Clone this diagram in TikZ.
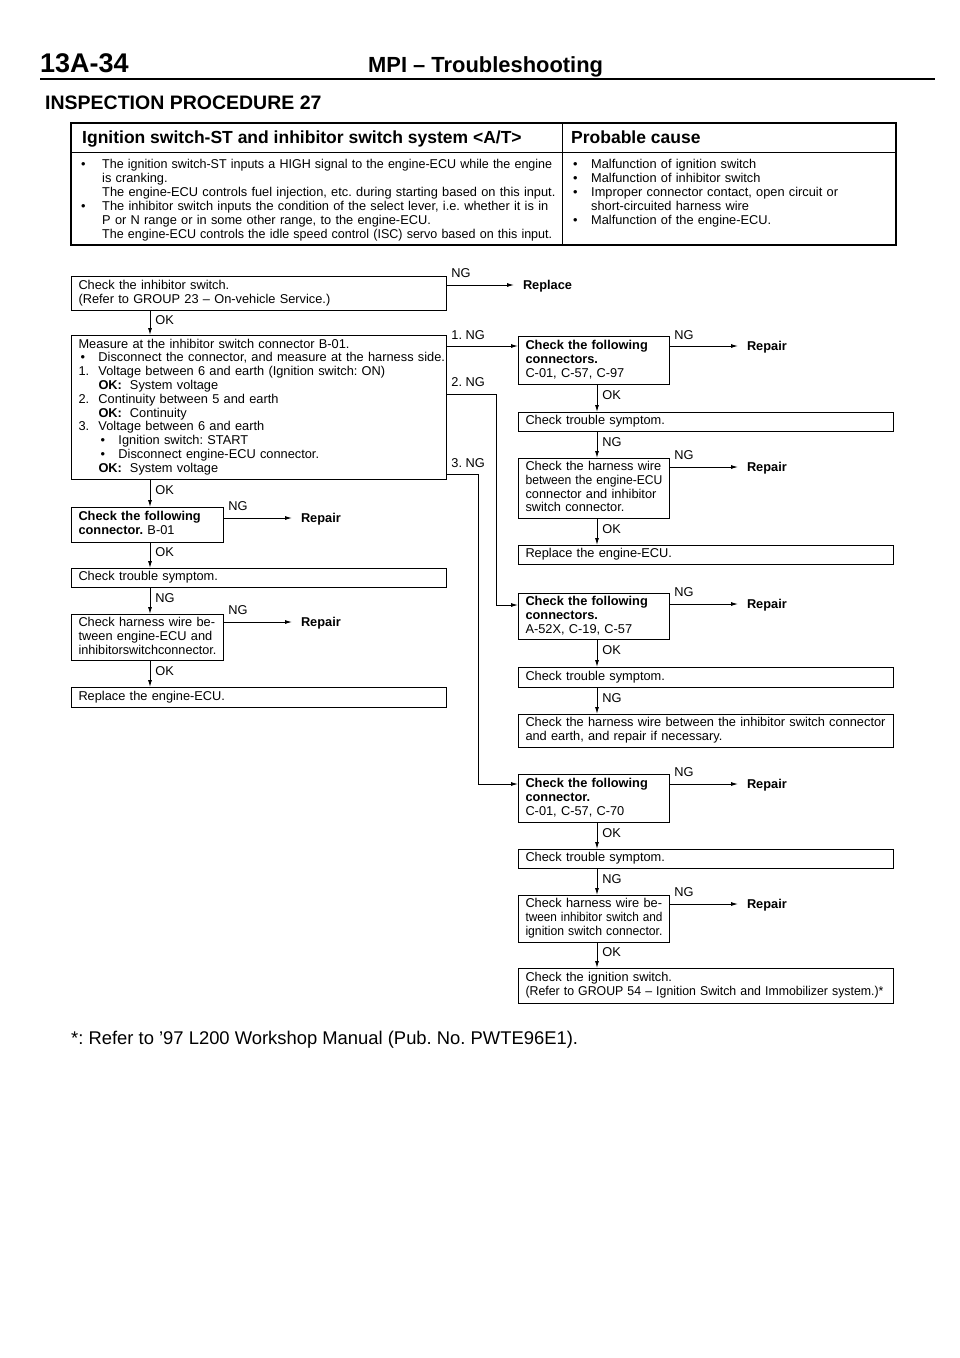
\documentclass[tikz,border=0pt]{standalone}
\usepackage{fontspec}
\usepackage{graphicx}
\setmainfont{Liberation Sans}
\usetikzlibrary{arrows.meta,calc}
\frenchspacing
\newcommand\fs{\fontsize{12.8}{13.8}\selectfont}
\newcommand\tfs{\fontsize{12.8}{14}\selectfont}
\newcommand\jl[2]{\makebox[#1pt][s]{#2}}
\newcommand\sq[2]{\resizebox{#1pt}{\height}{#2}}
\newcommand\hb[1]{\makebox[20pt][l]{#1}}
\newcommand\bul{\hspace{2pt}\textbullet}
\newcommand\lbl[1]{\leavevmode\llap{\textbullet\hspace{#1pt}}}
\begin{document}
\begin{tikzpicture}[x=1pt,y=-1pt,
  fb/.style={draw, line width=1pt, anchor=north west, inner xsep=7pt, inner ysep=0pt,
    align=left, font=\fs, execute at begin node={\parindent=0pt\frenchspacing\strut}, execute at end node={\strut}},
  tbl/.style={anchor=north west, inner sep=0pt, align=left, font=\tfs,
    execute at begin node={\parindent=0pt\frenchspacing\strut}},
  arr/.style={-{Latex[length=7pt,width=4pt]}, line width=0.9pt},
  lab/.style={anchor=west, inner sep=0pt, text height=9.2pt, text depth=0pt, font=\fs},
  vlab/.style={lab, pos=0.37, xshift=5pt},
  hlab/.style={lab, xshift=4pt, yshift=12pt},
  res/.style={anchor=west, inner sep=0pt, outer xsep=9pt, text height=9.2pt, text depth=0pt, font=\fs\bfseries},
]
\useasboundingbox[fill=white] (0,0) rectangle (960,1358);

% page header
\node[anchor=base west, inner sep=0pt, font=\fontsize{27}{30}\selectfont\bfseries] (pg) at (40,72) {13A-34};
\node[anchor=base west, inner sep=0pt, font=\fontsize{21.9}{24}\selectfont\bfseries] (ttl) at (368,72) {MPI – Troubleshooting};
\draw[line width=2.6pt] (40,79) -- (935,79);
\node[anchor=base west, inner sep=0pt, font=\fontsize{19.5}{22}\selectfont\bfseries] (ip) at (45,109) {INSPECTION PROCEDURE 27};

% table
\draw[line width=1.2pt] (71,123) rectangle (896,245);
\draw[line width=0.9pt] (71,152) -- (896,152);
\draw[line width=0.9pt] (562,123) -- (562,245);
\node[anchor=base west, inner sep=0pt, font=\fontsize{17.5}{20}\selectfont\bfseries] (th1) at (82,143.5) {Ignition switch-ST and inhibitor switch system <A/T>};
\node[anchor=base west, inner sep=0pt, font=\fontsize{17.5}{20}\selectfont\bfseries] (th2) at (571,143.5) {Probable cause};
\node[tbl, text width=453pt] (tl) at (102,158) {%
\lbl{16.5}\sq{450}{The ignition switch-ST inputs a HIGH signal to the engine-ECU while the engine}\\
is cranking.\\
\jl{450}{The engine-ECU controls fuel injection, etc. during starting based on this input.}\\
\lbl{16.5}\jl{450}{The inhibitor switch inputs the condition of the select lever, i.e. whether it is in}\\
P or N range or in some other range, to the engine-ECU.\\
\sq{450}{The engine-ECU controls the idle speed control (ISC) servo based on this input.}};
\node[tbl, text width=297pt] (tr) at (591,158) {%
\lbl{13.7}Malfunction of ignition switch\\
\lbl{13.7}Malfunction of inhibitor switch\\
\lbl{13.7}\jl{297}{Improper connector contact, open circuit or}\\
short-circuited harness wire\\
\lbl{13.7}Malfunction of the engine-ECU.};

% left column boxes
\node[fb, text width=361pt, minimum height=34pt] (A) at (71,276) {Check the inhibitor switch.\\(Refer to GROUP 23 – On-vehicle Service.)};
\node[fb, text width=361pt, minimum height=144pt] (B) at (71,335) {Measure at the inhibitor switch connector B-01.\\
\mbox{\hb{\bul}Disconnect the connector, and measure at the harness side.}\\
\hb{1.}Voltage between 6 and earth (Ignition switch: ON)\\
\hb{}\textbf{OK:}\hspace{8pt}System voltage\\
\hb{2.}Continuity between 5 and earth\\
\hb{}\textbf{OK:}\hspace{8pt}Continuity\\
\hb{3.}Voltage between 6 and earth\\
\hb{}\hb{\bul}Ignition switch: START\\
\hb{}\hb{\bul}Disconnect engine-ECU connector.\\
\hb{}\textbf{OK:}\hspace{8pt}System voltage};
\node[fb, text width=138pt, minimum height=35pt] (C) at (71,507) {\jl{138}{\bfseries Check the following}\\\textbf{connector.} B-01};
\node[fb, text width=361pt, minimum height=19pt] (D) at (71,568) {Check trouble symptom.};
\node[fb, text width=138pt, minimum height=46pt] (LE) at (71,614) {\jl{138}{Check harness wire be-}\\\jl{138}{tween engine-ECU and}\\\sq{138}{inhibitorswitchconnector.}};
\node[fb, text width=361pt, minimum height=20pt] (LR) at (71,687) {Replace the engine-ECU.};

% right column boxes
\node[fb, text width=137pt, minimum height=48pt] (RC1) at (518,336) {\jl{137}{\bfseries Check the following}\\\textbf{connectors.}\\C-01, C-57, C-97};
\node[fb, text width=361pt, minimum height=19pt] (RT1) at (518,412) {Check trouble symptom.};
\node[fb, text width=137pt, minimum height=60pt] (RH1) at (518,458) {\jl{137}{Check the harness wire}\\\sq{137}{between the engine-ECU}\\\jl{137}{connector and inhibitor}\\switch connector.};
\node[fb, text width=361pt, minimum height=19pt] (RR1) at (518,545) {Replace the engine-ECU.};
\node[fb, text width=137pt, minimum height=46pt] (RC2) at (518,593) {\jl{137}{\bfseries Check the following}\\\textbf{connectors.}\\A-52X, C-19, C-57};
\node[fb, text width=361pt, minimum height=20pt] (RT2) at (518,667) {Check trouble symptom.};
\node[fb, text width=361pt, minimum height=33pt] (RH2) at (518,714) {\jl{361}{Check the harness wire between the inhibitor switch connector}\\and earth, and repair if necessary.};
\node[fb, text width=137pt, minimum height=48pt] (RC3) at (518,774) {\jl{137}{\bfseries Check the following}\\\textbf{connector.}\\C-01, C-57, C-70};
\node[fb, text width=361pt, minimum height=19pt] (RT3) at (518,849) {Check trouble symptom.};
\node[fb, text width=137pt, minimum height=47pt] (RH3) at (518,895) {\jl{137}{Check harness wire be-}\\\sq{137}{tween inhibitor switch and}\\\sq{137}{ignition switch connector.}};
\node[fb, text width=361pt, minimum height=35pt] (RG) at (518,968) {Check the ignition switch.\\\sq{358}{(Refer to GROUP 54 – Ignition Switch and Immobilizer system.)*}};

% result nodes
\node[res] (rpA) at (514,285) {Replace};
\node[res] (rpC) at (292,518) {Repair};
\node[res] (rpLE) at (292,622) {Repair};
\node[res] (rp1) at (738,346) {Repair};
\node[res] (rp2) at (738,467) {Repair};
\node[res] (rp3) at (738,604) {Repair};
\node[res] (rp4) at (738,784) {Repair};
\node[res] (rp5) at (738,904) {Repair};

% axes
\coordinate (xl) at (150,0);
\coordinate (xr) at (597,0);
\coordinate (x2) at (496,0);
\coordinate (x3) at (478,0);

% left connectors
\draw[arr] ($(A.north east)+(0,9)$) node[hlab]{NG} -- (rpA.west);
\draw[arr] (xl |- A.south) -- node[vlab]{OK} (xl |- B.north);
\draw[arr] (xl |- B.south) -- node[vlab]{OK} (xl |- C.north);
\draw[arr] ($(C.north east)+(0,11)$) node[hlab]{NG} -- (rpC.west);
\draw[arr] (xl |- C.south) -- node[vlab]{OK} (xl |- D.north);
\draw[arr] (xl |- D.south) -- node[vlab]{NG} (xl |- LE.north);
\draw[arr] ($(LE.north east)+(0,8)$) node[hlab]{NG} -- (rpLE.west);
\draw[arr] (xl |- LE.south) -- node[vlab]{OK} (xl |- LR.north);

% branches from B
\coordinate (s2) at ($(B.north east)+(0,59)$);
\coordinate (t2) at ($(RC2.north west)+(0,12)$);
\coordinate (s3) at ($(B.north east)+(0,139)$);
\coordinate (t3) at ($(RC3.north west)+(0,10)$);
\draw[arr] ($(B.north east)+(0,11)$) node[hlab, yshift=-1pt]{1. NG} -- ($(RC1.north west)+(0,10)$);
\draw[arr] (s2) node[hlab]{2. NG} -| (x2 |- t2) -- (t2);
\draw[arr] (s3) node[hlab, yshift=-1pt]{3. NG} -| (x3 |- t3) -- (t3);

% right connectors
\draw[arr] ($(RC1.north east)+(0,10)$) node[hlab, yshift=-1pt]{NG} -- (rp1.west);
\draw[arr] (xr |- RC1.south) -- node[vlab]{OK} (xr |- RT1.north);
\draw[arr] (xr |- RT1.south) -- node[vlab]{NG} (xr |- RH1.north);
\draw[arr] ($(RH1.north east)+(0,9)$) node[hlab]{NG} -- (rp2.west);
\draw[arr] (xr |- RH1.south) -- node[vlab]{OK} (xr |- RR1.north);
\draw[arr] ($(RC2.north east)+(0,11)$) node[hlab]{NG} -- (rp3.west);
\draw[arr] (xr |- RC2.south) -- node[vlab]{OK} (xr |- RT2.north);
\draw[arr] (xr |- RT2.south) -- node[vlab]{NG} (xr |- RH2.north);
\draw[arr] ($(RC3.north east)+(0,10)$) node[hlab]{NG} -- (rp4.west);
\draw[arr] (xr |- RC3.south) -- node[vlab]{OK} (xr |- RT3.north);
\draw[arr] (xr |- RT3.south) -- node[vlab]{NG} (xr |- RH3.north);
\draw[arr] ($(RH3.north east)+(0,9)$) node[hlab]{NG} -- (rp5.west);
\draw[arr] (xr |- RH3.south) -- node[vlab]{OK} (xr |- RG.north);

% footnote
\node[anchor=base west, inner sep=0pt, font=\fontsize{18.4}{20}\selectfont] (fn) at (71,1044.5) {*: Refer to '97 L200 Workshop Manual (Pub. No. PWTE96E1).};
\end{tikzpicture}
\end{document}
